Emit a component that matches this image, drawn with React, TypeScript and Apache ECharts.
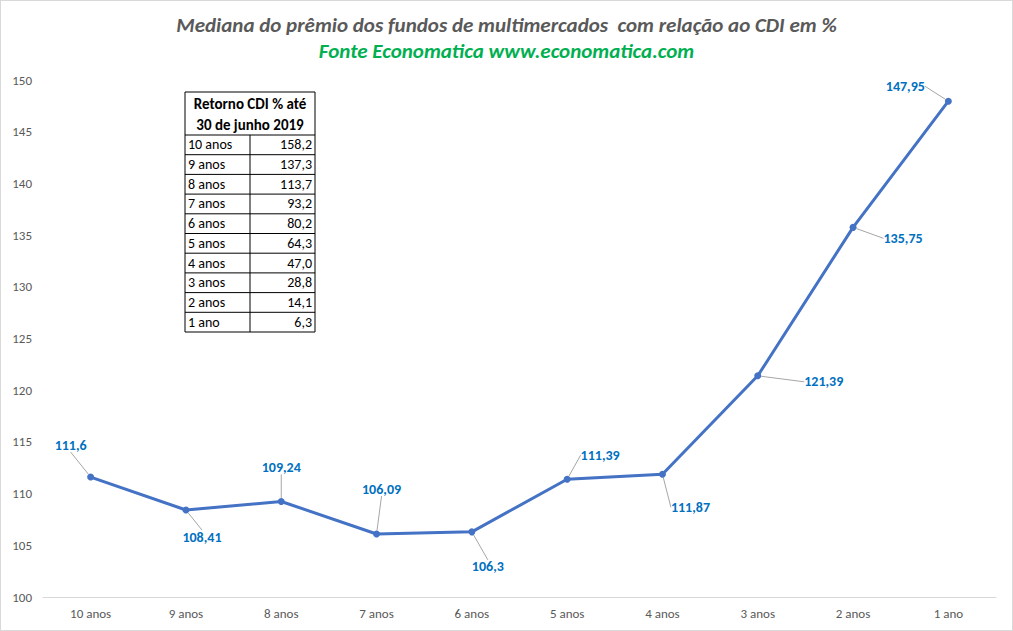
import React, { useEffect, useRef } from 'react'
import * as echarts from 'echarts'

const categories = ['10 anos', '9 anos', '8 anos', '7 anos', '6 anos', '5 anos', '4 anos', '3 anos', '2 anos', '1 ano']
const premio = [111.6, 108.41, 109.24, 106.09, 106.3, 111.39, 111.87, 121.39, 135.75, 147.95]

const tableHeader = ['Retorno CDI % até', '30 de junho 2019']
const tablePeriods = ['10 anos', '9 anos', '8 anos', '7 anos', '6 anos', '5 anos', '4 anos', '3 anos', '2 anos', '1 ano']
const tableRetorno = ['158,2', '137,3', '113,7', '93,2', '80,2', '64,3', '47,0', '28,8', '14,1', '6,3']

// where each data label sits relative to its point (px)
const labelShift: [number, number][] = [
    [-20, -32], [16, 27], [0, -34], [5, -45], [16, 35],
    [33, -24], [28, 33], [66, 6], [50, 11], [-43, -15],
]

const FONT = 'Carlito, Calibri, Lato, sans-serif'

const buildTable = () => {
    const x0 = 184
    const y0 = 91
    const w = 130
    const colX = 65
    const headH = 43
    const rowH = 19.7
    const children: any[] = []
    const h = headH + rowH * tablePeriods.length
    children.push({ type: 'rect', shape: { x: 0, y: 0, width: w, height: h }, style: { fill: '#fff', stroke: '#000', lineWidth: 1 } })
    tableHeader.forEach((t, i) => {
        children.push({
            type: 'text', x: w / 2, y: 12 + i * 21,
            style: { text: t, fill: '#000', font: `bold 15px ${FONT}`, align: 'center', verticalAlign: 'middle' },
        })
    })
    children.push({ type: 'line', shape: { x1: colX, y1: headH, x2: colX, y2: h }, style: { stroke: '#000', lineWidth: 1 } })
    tablePeriods.forEach((p, i) => {
        const top = headH + i * rowH
        children.push({ type: 'line', shape: { x1: 0, y1: top, x2: w, y2: top }, style: { stroke: '#000', lineWidth: 1 } })
        children.push({
            type: 'text', x: 3, y: top + rowH / 2,
            style: { text: p, fill: '#000', font: `14px ${FONT}`, align: 'left', verticalAlign: 'middle' },
        })
        children.push({
            type: 'text', x: w - 3, y: top + rowH / 2,
            style: { text: tableRetorno[i], fill: '#000', font: `14px ${FONT}`, align: 'right', verticalAlign: 'middle' },
        })
    })
    return { type: 'group', x: x0, y: y0, children }
}

const App = () => {
    const chartRef = useRef<HTMLDivElement>(null)

    useEffect(() => {
        if (!chartRef.current) return
        const myChart = echarts.init(chartRef.current, null, { renderer: 'svg' })

        const option = {
            animation: false,
            backgroundColor: '#fff',
            textStyle: { fontFamily: FONT },
            title: [
                {
                    text: 'Mediana do prêmio dos fundos de multimercados  com relação ao CDI em %',
                    left: 'center',
                    top: 8,
                    textStyle: { fontSize: 21, fontWeight: 'bold', fontStyle: 'italic', color: '#595959', fontFamily: FONT },
                },
                {
                    text: 'Fonte Economatica www.economatica.com',
                    left: 'center',
                    top: 34,
                    textStyle: { fontSize: 21, fontWeight: 'bold', fontStyle: 'italic', color: '#00B050', fontFamily: FONT },
                },
            ],
            grid: { left: 42, right: 16, top: 79, bottom: 33 },
            xAxis: {
                type: 'category',
                data: categories,
                boundaryGap: true,
                axisLine: { lineStyle: { color: '#D9D9D9', width: 1 } },
                axisTick: { show: false },
                axisLabel: { color: '#595959', fontSize: 13, margin: 10 },
            },
            yAxis: {
                type: 'value',
                min: 100,
                max: 150,
                interval: 5,
                axisLine: { show: false },
                axisTick: { show: false },
                splitLine: { show: false },
                axisLabel: { color: '#595959', fontSize: 13, margin: 11 },
            },
            series: [
                {
                    type: 'line',
                    data: premio,
                    symbol: 'circle',
                    symbolSize: 7,
                    lineStyle: { color: '#4472C4', width: 3 },
                    itemStyle: { color: '#4472C4' },
                    label: {
                        show: true,
                        position: 'inside',
                        color: '#0070C0',
                        fontWeight: 'bold',
                        fontSize: 14,
                        fontFamily: FONT,
                        formatter: (p: any) => String(p.value).replace('.', ','),
                    },
                    labelLine: { show: true, lineStyle: { color: '#A6A6A6', width: 1 } },
                    labelLayout: (p: any) => ({ dx: labelShift[p.dataIndex][0], dy: labelShift[p.dataIndex][1] }),
                },
            ],
            graphic: [buildTable()],
        }

        myChart.setOption(option)

        return () => {
            myChart.dispose()
        }
    }, [])

    return (
        <div style={{ position: 'absolute', left: 0, top: 0, width: 1013, height: 631, border: '1px solid #D9D9D9', boxSizing: 'border-box' }}>
            <div ref={chartRef} style={{ width: '100%', height: '100%' }} />
        </div>
    )
}

export default App
